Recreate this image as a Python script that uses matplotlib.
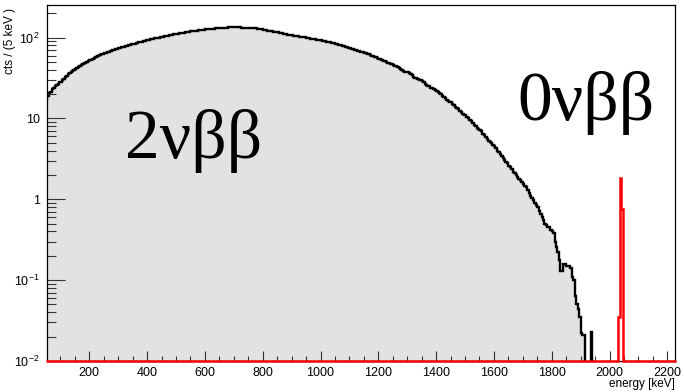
import numpy as np
import matplotlib
matplotlib.use("Agg")
import matplotlib.pyplot as plt
from matplotlib.ticker import MultipleLocator, FixedLocator, NullFormatter

plt.rcParams['font.family'] = ['Liberation Sans', 'DejaVu Sans']
plt.rcParams['mathtext.fontset'] = 'custom'
plt.rcParams['mathtext.rm'] = 'Liberation Sans'
plt.rcParams['mathtext.it'] = 'Liberation Sans:italic'

# 2nbb spectrum, 5 keV bins starting at 50 keV
bin_width = 5
first_edge = 50
counts_2v = [
    17.5, 19, 20.5, 21.5, 23, 24, 25, 26, 27, 28,
    28.5, 29.8, 31, 32.5, 33.5, 35, 36, 37.5, 38.5, 39.5,
    40.5, 41.5, 43, 44, 45.5, 46.5, 48, 49, 50, 51.5,
    52.5, 53.5, 55, 56, 57, 58.5, 59.5, 60.5, 62, 63,
    64, 65, 66, 67, 68, 69, 70, 71, 72, 73,
    74, 75, 76, 77, 77.5, 78.5, 79.5, 80.5, 81.5, 82.5,
    83, 84, 85, 86, 87, 88, 89, 90, 91, 92,
    93, 94, 95, 96, 97, 97.5, 98.5, 99.5, 100, 101,
    102, 103, 104, 105, 106, 107, 107.5, 108.5, 109.5, 110,
    111, 112, 113, 114, 114.5, 115.5, 116, 117, 117.5, 118.5,
    119, 120, 121, 121.5, 122, 122.5, 123.5, 124, 124.5, 125,
    126, 126.5, 127, 127.5, 128, 128.5, 129, 129.5, 130, 130.5,
    131, 131.5, 132, 132.5, 133, 133, 133.5, 133.5, 134, 134,
    134, 134, 134, 133.5, 133.5, 133, 133, 132.5, 132.5, 132,
    132, 131.5, 131, 130.5, 130, 129.5, 128.5, 128, 127, 126,
    125, 124, 123, 122, 121, 120, 119, 118.5, 117.5, 116.5,
    116, 115, 114, 113, 112, 111, 110, 109, 108.5, 107.5,
    107, 106, 105, 104, 103.5, 103, 102, 101.5, 101, 100.5,
    100, 99, 98, 97, 96.5, 95.5, 95, 94, 93, 92.5,
    92, 91, 90, 89.5, 88.5, 87.5, 87, 86, 85, 84.5,
    84, 83, 82, 81, 80, 79, 78, 77, 76, 75,
    74, 73, 72, 71, 70, 69, 68, 67, 66, 65.5,
    65, 64, 63, 62, 61, 60, 59, 58, 57, 56,
    55, 54, 53, 52, 51, 50, 49, 48, 47, 46.5,
    46, 45, 44, 43, 42, 41, 40, 39, 38, 37.5,
    37, 36, 35, 34, 33, 32, 31.5, 30.5, 30, 29.5,
    29, 28, 27, 26, 25.5, 25, 24, 23.5, 23, 22.5,
    22, 21, 20.5, 20, 19, 18.5, 18, 17, 16.5, 16,
    16, 15, 14.5, 14, 13.5, 13, 12.5, 12, 11.5, 11,
    11, 10.5, 10, 9.6, 9.2, 8.8, 8.4, 8.0, 7.7, 7.4,
    7.2, 6.9, 6.5, 6.2, 5.9, 5.6, 5.3, 5.1, 4.9, 4.7,
    4.5, 4.3, 4.0, 3.8, 3.6, 3.4, 3.2, 3.1, 2.9, 2.8,
    2.6, 2.5, 2.4, 2.2, 2.1, 2.0, 1.9, 1.8, 1.75, 1.65,
    1.55, 1.45, 1.4, 1.3, 1.2, 1.1, 1.05, 0.98, 0.9, 0.85,
    0.8, 0.72, 0.66, 0.6, 0.55, 0.5, 0.48, 0.46, 0.45, 0.42,
    0.40, 0.38, 0.30, 0.26, 0.22, 0.18, 0.13, 0.13, 0.16, 0.16,
    0.15, 0.15, 0.15, 0.14, 0.11, 0.10, 0.063, 0.05, 0.044, 0.035,
    0.022, 0.021, 0.021, 0, 0, 0, 0, 0.023, 0, 0,
]

# 0nbb peak at Q = 2039 keV
peak_energies = [2030, 2035, 2040]
peak_counts = [0.035, 1.84, 0.75]
last_edge = 2230

x_range = (52.6, 2226.6)
y_range = (1e-2, 255)
y_ticks = [1e-2, 1e-1, 1, 10, 100]
y_ticklabels = ['$10^{-2}$', '$10^{-1}$', '1', '10', '$10^{2}$']

edges_2v = first_edge + bin_width * np.arange(len(counts_2v) + 1)
edges_0v = np.arange(first_edge, last_edge + bin_width, bin_width)
counts_0v = np.zeros(len(edges_0v) - 1)
for e, c in zip(peak_energies, peak_counts):
    counts_0v[int((e - first_edge) // bin_width)] = c

fig = plt.figure(figsize=(6.84, 3.92), dpi=100)
W, H = 684, 392
ax = fig.add_axes([46.7 / W, 1 - 361 / H, (675 - 46.7) / W, (361 - 4.7) / H])
ax.set_yscale('log')

ax.stairs(counts_2v, edges_2v, fill=True, baseline=1e-4, color='#e2e2e2', lw=0)
ax.stairs(counts_2v, edges_2v, baseline=1e-4, color='black', lw=1.7)
ax.stairs(np.clip(counts_0v, y_range[0], None), edges_0v, baseline=y_range[0],
          color='red', lw=1.8, zorder=5, clip_on=False)

ax.set_xlim(*x_range)
ax.set_ylim(*y_range)

ax.xaxis.set_major_locator(MultipleLocator(200))
ax.xaxis.set_minor_locator(MultipleLocator(50))
ax.yaxis.set_major_locator(FixedLocator(y_ticks))
ax.set_yticklabels(y_ticklabels)
ax.yaxis.set_minor_locator(FixedLocator(
    [m * 10.0 ** p for p in range(-2, 3) for m in range(2, 10)]))
ax.yaxis.set_minor_formatter(NullFormatter())

ax.tick_params(axis='x', which='major', direction='in', length=7.2, width=0.8,
               labelsize=9, pad=4, color='#333333')
ax.tick_params(axis='x', which='minor', direction='in', length=3.6, width=0.8,
               color='#333333')
ax.tick_params(axis='y', which='major', direction='in', length=13, width=0.8,
               labelsize=9, pad=5, color='#333333')
ax.tick_params(axis='y', which='minor', direction='in', length=6.5, width=0.8,
               color='#333333')
for s in ax.spines.values():
    s.set_linewidth(0.9)

fig.text(675 / W, 1 - 384 / H, 'energy [keV]', ha='right', va='center', fontsize=8.5)
fig.text(10 / W, 1 - 8 / H, 'cts / (5 keV )', rotation=90, ha='center', va='top',
         fontsize=8.5)

fig.text(125 / W, 1 - 158 / H, '2νββ', fontsize=50, family='Liberation Serif',
         ha='left', va='baseline')
fig.text(517 / W, 1 - 120 / H, '0νββ', fontsize=50, family='Liberation Serif',
         ha='left', va='baseline')

fig.savefig('out.png', dpi=100)
